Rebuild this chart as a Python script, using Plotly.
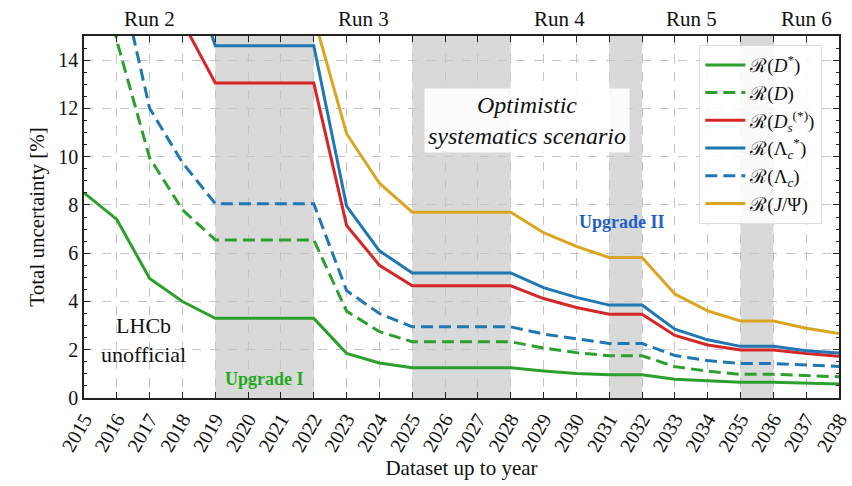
import plotly.graph_objects as go

years = list(range(2015, 2039))

# Values (None = above the visible range, not drawn)
r_dstar = [8.5, 7.4, 4.95, 4.0, 3.3, 3.3, 3.3, 3.3, 1.85, 1.45, 1.25, 1.25,
           1.25, 1.25, 1.12, 1.02, 0.96, 0.96, 0.78, 0.70, 0.65, 0.65, 0.62, 0.58]
r_d = [22.0, 14.8, 9.95, 7.8, 6.55, 6.55, 6.55, 6.55, 3.6, 2.75, 2.33, 2.33,
       2.33, 2.33, 2.07, 1.88, 1.75, 1.75, 1.30, 1.11, 0.98, 0.98, 0.93, 0.88]
r_ds = [None, None, None, 15.6, 13.05, 13.05, 13.05, 13.05, 7.15, 5.5, 4.65, 4.65,
        4.65, 4.65, 4.12, 3.75, 3.47, 3.47, 2.59, 2.2, 1.99, 1.99, 1.84, 1.73]
r_lcstar = [None, None, None, 18.6, 14.6, 14.6, 14.6, 14.6, 7.95, 6.1, 5.18, 5.18,
            5.18, 5.18, 4.57, 4.17, 3.85, 3.85, 2.85, 2.41, 2.14, 2.14, 1.96, 1.86]
r_lc = [None, 18.0, 12.0, 9.75, 8.05, 8.05, 8.05, 8.05, 4.45, 3.5, 2.95, 2.95,
        2.95, 2.95, 2.65, 2.45, 2.26, 2.26, 1.76, 1.55, 1.43, 1.43, 1.36, 1.31]
r_jpsi = [None, None, None, None, None, None, None, 15.8, 10.95, 8.9, 7.7, 7.7,
          7.7, 7.7, 6.85, 6.28, 5.82, 5.82, 4.31, 3.61, 3.19, 3.19, 2.89, 2.67]

shutdowns = [(2019, 2022), (2025, 2028), (2031, 2032), (2035, 2036)]
run_labels = ["Run 2", "Run 3", "Run 4", "Run 5", "Run 6"]
run_pos = [2017, 2023.5, 2029.5, 2033.5, 2037]

GREEN = "#2ca02c"
RED = "#d62728"
BLUE = "#1f77b4"
GOLD = "#daa520"
FONT = "Liberation Serif, serif"

series = [
    (r_dstar, "ℛ(<i>D</i><sup>*</sup>)", GREEN, "solid"),
    (r_d, "ℛ(<i>D</i>)", GREEN, "12px,6px"),
    (r_ds, "ℛ(<i>D</i><sub><i>s</i></sub><sup>(*)</sup>)", RED, "solid"),
    (r_lcstar, "ℛ(Λ<sub><i>c</i></sub><sup>*</sup>)", BLUE, "solid"),
    (r_lc, "ℛ(Λ<sub><i>c</i></sub>)", BLUE, "12px,6px"),
    (r_jpsi, "ℛ(<i>J</i>/Ψ)", GOLD, "solid"),
]

fig = go.Figure()
for vals, name, color, dash in series:
    fig.add_trace(go.Scatter(
        x=years, y=vals, mode="lines", name=name,
        line=dict(color=color, width=3, dash=dash),
        connectgaps=False,
    ))

for x0, x1 in shutdowns:
    fig.add_shape(type="rect", xref="x", yref="paper", x0=x0, x1=x1, y0=0, y1=1,
                  fillcolor="#d9d9d9", line=dict(width=0), layer="below")

for lab, pos in zip(run_labels, run_pos):
    fig.add_annotation(x=pos, y=1, xref="x", yref="paper", yanchor="bottom",
                       yshift=3, text=lab, showarrow=False,
                       font=dict(family=FONT, size=21, color="#111"))

fig.add_annotation(x=2028.5, y=11.5, xref="x", yref="y",
                   text="<i>Optimistic</i><br><i>systematics scenario</i>",
                   showarrow=False, bgcolor="rgba(255,255,255,0.92)",
                   borderpad=3, font=dict(family=FONT, size=24, color="#111"))
fig.add_annotation(x=2016.8, y=2.4, xref="x", yref="y",
                   text="LHCb<br>unofficial", showarrow=False,
                   font=dict(family=FONT, size=22, color="#111"))
fig.add_annotation(x=2020.5, y=0.8, xref="x", yref="y",
                   text="<b>Upgrade I</b>", showarrow=False,
                   font=dict(family=FONT, size=18, color="#1faa1f"))
fig.add_annotation(x=2031.4, y=7.3, xref="x", yref="y",
                   text="<b>Upgrade II</b>", showarrow=False,
                   font=dict(family=FONT, size=18, color="#1f5fc8"))

axis_common = dict(
    showline=True, linecolor="#222", linewidth=1.5, mirror="allticks",
    ticks="inside", tickcolor="#222", ticklen=6, tickwidth=1.2,
    showgrid=True, gridcolor="#c4c4c4", griddash="dash", gridwidth=0.8,
    zeroline=False, automargin=False,
    tickfont=dict(family=FONT, size=20, color="#111"),
)

fig.update_xaxes(
    range=[2015, 2038], tickmode="array", tickvals=years,
    ticktext=[str(y) for y in years], tickangle=-60,
    title=dict(text="Dataset up to year", font=dict(family=FONT, size=21, color="#111"),
               standoff=6),
    **axis_common,
)
fig.update_yaxes(
    range=[0, 15], tickmode="array", tickvals=[0, 2, 4, 6, 8, 10, 12, 14],
    minor=dict(ticks="inside", ticklen=3, tickcolor="#222", dtick=0.5, showgrid=False),
    title=dict(text="Total uncertainty [%]", font=dict(family=FONT, size=21, color="#111"),
               standoff=8),
    **axis_common,
)

fig.update_layout(
    width=852, height=486,
    margin=dict(l=84, r=13, t=36, b=88),
    paper_bgcolor="white", plot_bgcolor="white",
    showlegend=True,
    legend=dict(x=0.815, y=0.975, xanchor="left", yanchor="top",
                bgcolor="rgba(255,255,255,0.85)", bordercolor="#dddddd", borderwidth=1,
                font=dict(family=FONT, size=19, color="#111"),
                tracegroupgap=0, itemwidth=40),
)

fig.write_html("out.html")
